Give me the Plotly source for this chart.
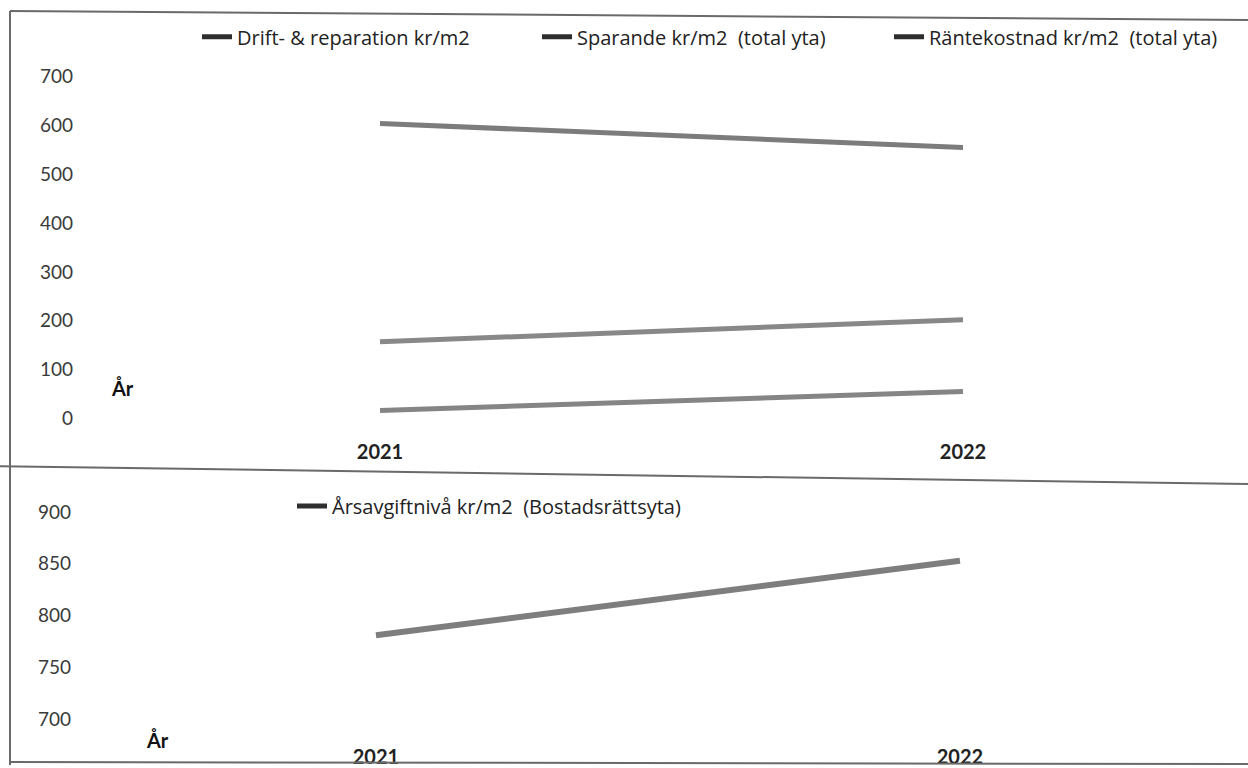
import plotly.graph_objects as go

# ---- data ----
years = [2021, 2022]
year_labels = ["2021", "2022"]
drift = [604, 555]          # Drift- & reparation kr/m2
sparande = [157, 202]       # Sparande kr/m2 (total yta)
ranta = [16, 55]            # Räntekostnad kr/m2 (total yta)
arsavgift = [781, 853]      # Årsavgiftnivå kr/m2 (Bostadsrättsyta)

top_ticks = [0, 100, 200, 300, 400, 500, 600, 700]
bottom_ticks = [700, 750, 800, 850, 900]

names_top = ["Drift- & reparation kr/m2", "Sparande kr/m2  (total yta)", "Räntekostnad kr/m2  (total yta)"]
name_bottom = "Årsavgiftnivå kr/m2  (Bostadsrättsyta)"

W, H = 1248, 768
def px(x):
    return x / W
def py(y):
    return 1 - y / H

FONT = "Lato"
LEGFONT = "Open Sans"
fig = go.Figure()

line_cols = ["#7c7c7c", "#888888", "#858585"]
for vals, nm, col in zip([drift, sparande, ranta], names_top, line_cols):
    fig.add_trace(go.Scatter(x=years, y=vals, mode="lines", name=nm,
                             line=dict(color=col, width=5), showlegend=False,
                             xaxis="x", yaxis="y"))
fig.add_trace(go.Scatter(x=years, y=arsavgift, mode="lines", name=name_bottom,
                         line=dict(color="#7e7e7e", width=6), showlegend=False,
                         xaxis="x2", yaxis="y2"))

# legend samples (dark, as in the printed legend)
for i, nm in enumerate(names_top):
    fig.add_trace(go.Scatter(x=[None], y=[None], mode="lines", name=nm,
                             line=dict(color="#2e2e2e", width=5),
                             legend=["legend", "legend2", "legend3"][i],
                             xaxis="x", yaxis="y"))
fig.add_trace(go.Scatter(x=[None], y=[None], mode="lines", name=name_bottom,
                         line=dict(color="#2e2e2e", width=5),
                         legend="legend4", xaxis="x2", yaxis="y2"))

leg_common = dict(orientation="h", xanchor="left", yanchor="middle",
                  bgcolor="rgba(0,0,0,0)", borderwidth=0,
                  font=dict(family=LEGFONT, size=20, color="#222222"))

ax_common = dict(showgrid=False, zeroline=False, showline=False, ticks="")

fig.update_layout(
    width=W, height=H,
    margin=dict(l=0, r=0, t=0, b=0),
    paper_bgcolor="white", plot_bgcolor="rgba(0,0,0,0)",
    font=dict(family=FONT),
    xaxis=dict(domain=[px(80), 1], range=[2020.4854, 2022.4889],
               anchor="free", position=py(440),
               tickvals=years, ticktext=year_labels,
               tickfont=dict(family=FONT, size=20, color="#222222", weight="bold"),
               **ax_common),
    yaxis=dict(domain=[py(466), py(15)], range=[-93.9, 826.5],
               tickvals=top_ticks, ticklabelstandoff=6,
               tickfont=dict(family=FONT, size=19, color="#3a3a3a"),
               **ax_common),
    xaxis2=dict(domain=[px(80), 1], range=[2020.4932, 2022.4932],
                anchor="free", position=py(746),
                tickvals=years, ticktext=year_labels,
                tickfont=dict(family=FONT, size=20, color="#222222", weight="bold"),
                **ax_common),
    yaxis2=dict(domain=[0, py(470)], range=[655.8, 942.3],
                tickvals=bottom_ticks, ticklabelstandoff=8, anchor="x2",
                tickfont=dict(family=FONT, size=19, color="#3a3a3a"),
                **ax_common),
    legend=dict(x=px(197), y=py(37), **leg_common),
    legend2=dict(x=px(537), y=py(37), **leg_common),
    legend3=dict(x=px(889), y=py(37), **leg_common),
    legend4=dict(x=px(292), y=py(508), **leg_common),
    showlegend=True,
)

# frame lines of the printed charts
frame = dict(type="line", xref="paper", yref="paper", line=dict(color="#6a6a6a", width=2))
fig.add_shape(x0=px(10), y0=py(11), x1=1, y1=py(20), **frame)
fig.add_shape(x0=px(10), y0=py(11), x1=px(10), y1=0, **frame)
fig.add_shape(x0=0, y0=py(468), x1=1, y1=py(486), **frame)
fig.add_shape(x0=px(10), y0=py(765), x1=1, y1=py(767), **frame)

# "År" labels
fig.add_annotation(text="<b>År</b>", xref="paper", yref="paper", x=px(122), y=py(390),
                   xanchor="center", yanchor="middle",
                   showarrow=False, font=dict(family=FONT, size=20, color="#111111"))
fig.add_annotation(text="<b>År</b>", xref="paper", yref="paper", x=px(157), y=py(743),
                   xanchor="center", yanchor="middle",
                   showarrow=False, font=dict(family=FONT, size=20, color="#111111"))

fig.write_html("out.html")
